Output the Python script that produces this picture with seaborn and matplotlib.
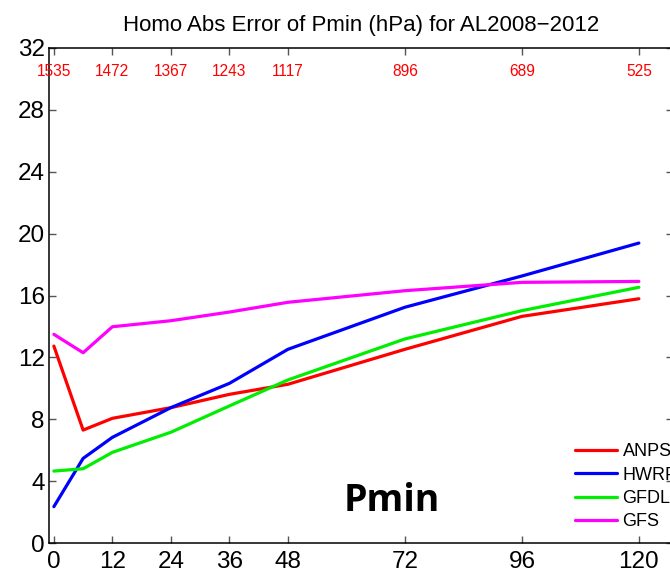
import numpy as np
import pandas as pd
import seaborn as sns
import matplotlib
matplotlib.use("Agg")
import matplotlib.pyplot as plt

# Forecast lead times (h)
lead_times = [0, 6, 12, 24, 36, 48, 72, 96, 120]

# Mean absolute Pmin error (hPa) for each model
anps = [12.73, 7.30, 8.06, 8.75, 9.61, 10.26, 12.52, 14.65, 15.79]
hwrf = [2.35, 5.47, 6.83, 8.75, 10.32, 12.52, 15.24, 17.26, 19.39]
gfdl = [4.65, 4.80, 5.86, 7.16, 8.86, 10.54, 13.19, 15.02, 16.53]
gfs = [13.49, 12.30, 13.98, 14.37, 14.93, 15.56, 16.31, 16.85, 16.91]

models = ["ANPS", "HWRF", "GFDL", "GFS"]
model_colors = ["#ff0000", "#0000ff", "#00ee00", "#ff00ff"]

# Number of homogeneous cases at each verification time
case_hours = [0, 12, 24, 36, 48, 72, 96, 120]
case_counts = [1535, 1472, 1367, 1243, 1117, 896, 689, 525]

x_ticks = [0, 12, 24, 36, 48, 72, 96, 120]
y_ticks = list(range(0, 33, 4))

df = pd.DataFrame({
    "hour": lead_times * 4,
    "error": anps + hwrf + gfdl + gfs,
    "model": sum([[m] * len(lead_times) for m in models], []),
})

sns.set_style("ticks")
plt.rcParams["font.family"] = ["Liberation Sans", "DejaVu Sans"]
plt.rcParams["text.color"] = "black"
plt.rcParams["axes.labelcolor"] = "black"

fig = plt.figure(figsize=(6.70, 5.76), dpi=100)
ax = fig.add_axes([49 / 670, 33 / 576, 624 / 670, 495 / 576])

sns.lineplot(data=df, x="hour", y="error", hue="model", hue_order=models,
             palette=model_colors, linewidth=2.3, ax=ax, legend=False)

ax.set_xlim(-1, 127)
ax.set_ylim(0, 32)
ax.set_xticks(x_ticks)
ax.set_yticks(y_ticks)
ax.set_xlabel("")
ax.set_ylabel("")

for side in ["left", "right", "top", "bottom"]:
    ax.spines[side].set_visible(True)
    ax.spines[side].set_linewidth(1.1)
    ax.spines[side].set_color("black")

ax.tick_params(axis="both", direction="in", length=5, width=1, color="#555555",
               top=True, right=True, labelsize=17.5, labelcolor="black")
ax.tick_params(axis="x", pad=6)
ax.tick_params(axis="y", pad=3)

ax.set_title("Homo Abs Error of Pmin (hPa) for AL2008\u22122012",
             fontsize=16, pad=12, color="black")

for h, n in zip(case_hours, case_counts):
    ax.text(h, 30.45, str(n), color="#ff0000", fontsize=11.2,
            ha="center", va="center")

ax.text(392, 576 - 511, "Pmin", transform=None, fontsize=27, fontweight="bold",
        color="black", family=["Open Sans", "DejaVu Sans"],
        ha="center", va="baseline")

handles = [plt.Line2D([], [], color=c, linewidth=2.3) for c in model_colors]
fig.legend(handles, models, loc="upper left",
           bbox_to_anchor=(575 / 670, (576 - 443) / 576),
           frameon=False, fontsize=13, borderpad=0, borderaxespad=0,
           handlelength=2.33, handletextpad=0.3, labelspacing=0.36,
           labelcolor="black")

fig.savefig("out.png", dpi=100)
